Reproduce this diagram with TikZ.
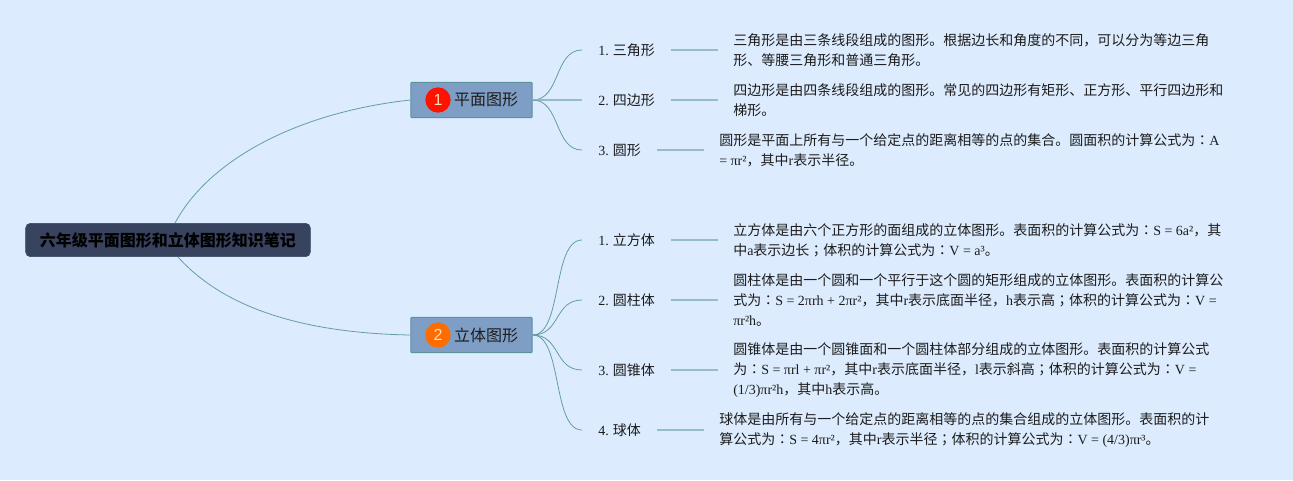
\documentclass[tikz,border=0pt]{standalone}
\usepackage{fontspec}
\usepackage{xcolor}
\setmainfont{Noto Sans CJK SC}
\newfontfamily\serifin{Liberation Serif}
\newfontfamily\tcfont{Noto Sans CJK TC}
\newfontfamily\badgefont{Liberation Sans}
\newcommand{\rmn}[1]{{\serifin #1}}
\newcommand{\mh}{{\tcfont ：}}
\newcommand{\fh}{{\tcfont ；}}
\definecolor{bgblue}{HTML}{DCECFE}
\definecolor{rootnavy}{HTML}{37435F}
\definecolor{branchblue}{HTML}{7F9EC5}
\definecolor{branchedge}{HTML}{5C929B}
\definecolor{curveteal}{HTML}{659CA5}
\definecolor{leaderteal}{HTML}{94BDC8}
\definecolor{inkgrey}{HTML}{1C1C1C}
\tikzset{
  rootbox/.style={draw=rootnavy,fill=rootnavy,rounded corners=3.5pt,minimum width=213.5pt,minimum height=25pt,inner sep=0pt,font=\fontsize{12}{15}\selectfont\bfseries,text=black},
  branchbox/.style={draw=branchedge,fill=branchblue,rounded corners=0.7pt,line width=0.7pt,minimum width=91pt,minimum height=26.5pt,inner sep=0pt,font=\fontsize{12}{15}\selectfont,text=inkgrey},
  badge/.style={circle,minimum size=19pt,inner sep=0pt,font=\fontsize{12}{15}\badgefont,text=white!75!orange},
  itemlabel/.style={inner xsep=12pt,inner ysep=0pt,font=\fontsize{10.5}{15}\selectfont,text=inkgrey},
  notetext/.style={align=left,inner xsep=11.25pt,inner ysep=0pt,font=\fontsize{10.5}{15}\selectfont,text=inkgrey},
  twig/.style={draw=curveteal,line width=0.6pt},
  leader/.style={draw=leaderteal,line width=1.1pt}
}
\begin{document}
\begin{tikzpicture}[x=0.75pt,y=-0.75pt]

\fill [bgblue] (0,0) rectangle (1293,480);

\node [rootbox] (root) at (168,240) {六年级平面图形和立体图形知识笔记};
\coordinate (rootup) at (175,223);
\coordinate (rootdown) at (178,257);

\node [branchbox] (plane) at (471.5,100) {\hspace{21.75pt}平面图形};
\node [branchbox] (solid) at (471.5,335) {\hspace{21.75pt}立体图形};
\node [badge,fill=red!85!orange] (badge1) at (438,100) {1};
\node [badge,fill=orange!85!red] (badge2) at (438,335) {2};

\node [itemlabel,anchor=west] (tri) at (582,50) {\rmn{1.} 三角形};
\node [itemlabel,anchor=west] (quad) at (582,100) {\rmn{2.} 四边形};
\node [itemlabel,anchor=west] (circ) at (582,150) {\rmn{3.} 圆形};
\node [itemlabel,anchor=west] (cube) at (582,240) {\rmn{1.} 立方体};
\node [itemlabel,anchor=west] (cyl) at (582,300) {\rmn{2.} 圆柱体};
\node [itemlabel,anchor=west] (cone) at (582,370) {\rmn{3.} 圆锥体};
\node [itemlabel,anchor=west] (ball) at (582,430) {\rmn{4.} 球体};

\node [notetext,anchor=west] (tritext) at (718,50) {三角形是由三条线段组成的图形。根据边长和角度的不同，可以分为等边三角\\形、等腰三角形和普通三角形。};
\node [notetext,anchor=west] (quadtext) at (718,100) {四边形是由四条线段组成的图形。常见的四边形有矩形、正方形、平行四边形和\\梯形。};
\node [notetext,anchor=west] (circtext) at (704,150) {圆形是平面上所有与一个给定点的距离相等的点的集合。圆面积的计算公式为\mh\rmn{A}\\\rmn{= πr²}，其中\rmn{r}表示半径。};
\node [notetext,anchor=west] (cubetext) at (718,240) {立方体是由六个正方形的面组成的立体图形。表面积的计算公式为\mh\rmn{S = 6a²}，其\\中\rmn{a}表示边长\fh 体积的计算公式为\mh\rmn{V = a³}。};
\node [notetext,anchor=west] (cyltext) at (718,300) {圆柱体是由一个圆和一个平行于这个圆的矩形组成的立体图形。表面积的计算公\\式为\mh\rmn{S = 2πrh + 2πr²}，其中\rmn{r}表示底面半径，\rmn{h}表示高\fh 体积的计算公式为\mh\rmn{V =}\\\rmn{πr²h}。};
\node [notetext,anchor=west] (conetext) at (718,370) {圆锥体是由一个圆锥面和一个圆柱体部分组成的立体图形。表面积的计算公式\\为\mh\rmn{S = πrl + πr²}，其中\rmn{r}表示底面半径，\rmn{l}表示斜高\fh 体积的计算公式为\mh\rmn{V =}\\\rmn{(1/3)πr²h}，其中\rmn{h}表示高。};
\node [notetext,anchor=west] (balltext) at (704,430) {球体是由所有与一个给定点的距离相等的点的集合组成的立体图形。表面积的计\\算公式为\mh\rmn{S = 4πr²}，其中\rmn{r}表示半径\fh 体积的计算公式为\mh\rmn{V = (4/3)πr³}。};

\draw [twig] (rootup) .. controls +(35,-65) and +(-110,12) .. (plane.west);
\draw [twig] (rootdown) .. controls +(45,50) and +(-110,-2) .. (solid.west);

\draw [twig] (plane.east) .. controls +(28,0) and +(-28,0) .. (tri.west);
\draw [leader] (plane.east) -- (quad.west);
\draw [twig] (plane.east) .. controls +(28,0) and +(-28,0) .. (circ.west);

\draw [twig] (solid.east) .. controls +(30,0) and +(-30,0) .. (cube.west);
\draw [twig] (solid.east) .. controls +(28,0) and +(-28,0) .. (cyl.west);
\draw [twig] (solid.east) .. controls +(28,0) and +(-28,0) .. (cone.west);
\draw [twig] (solid.east) .. controls +(30,0) and +(-30,0) .. (ball.west);

\draw [leader] (tri.east) -- (tritext.west);
\draw [leader] (quad.east) -- (quadtext.west);
\draw [leader] (circ.east) -- (circtext.west);
\draw [leader] (cube.east) -- (cubetext.west);
\draw [leader] (cyl.east) -- (cyltext.west);
\draw [leader] (cone.east) -- (conetext.west);
\draw [leader] (ball.east) -- (balltext.west);

\end{tikzpicture}
\end{document}
